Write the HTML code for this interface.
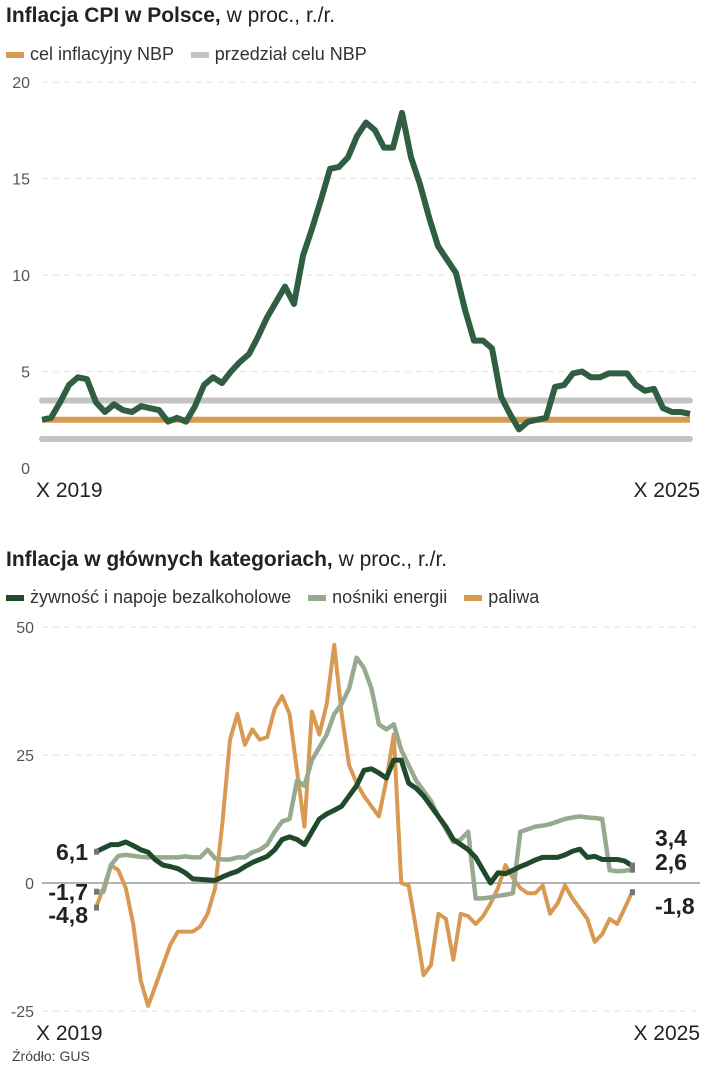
<!DOCTYPE html>
<html><head><meta charset="utf-8">
<style>
body{margin:0;background:#fff;font-family:"Liberation Sans Narrow","Liberation Sans",sans-serif;color:#222;}
#wrap{position:relative;width:703px;height:1080px;overflow:hidden;}
.t{position:absolute;white-space:nowrap;}
</style></head>
<body>
<div id="wrap">
<div class="t" style="left:6px;top:4px;font-size:21px"><b>Inflacja CPI w Polsce,</b> w proc., r./r.</div>
<div class="t" style="left:6px;top:44px;font-size:18px;color:#333">
<span style="display:inline-block;width:18px;height:6px;background:#d89a52;vertical-align:middle;margin-right:6px"></span>cel inflacyjny NBP
<span style="display:inline-block;width:18px;height:6px;background:#c3c3c3;vertical-align:middle;margin:0 6px 0 12px"></span>przedział celu NBP</div>
<div class="t" style="left:6px;top:548px;font-size:21px"><b>Inflacja w głównych kategoriach,</b> w proc., r./r.</div>
<div class="t" style="left:6px;top:587px;font-size:18px;color:#333">
<span style="display:inline-block;width:18px;height:6px;background:#1f4a2c;vertical-align:middle;margin-right:6px"></span>żywność i napoje bezalkoholowe
<span style="display:inline-block;width:18px;height:6px;background:#97aa8f;vertical-align:middle;margin:0 6px 0 12px"></span>nośniki energii
<span style="display:inline-block;width:18px;height:6px;background:#d89a52;vertical-align:middle;margin:0 6px 0 12px"></span>paliwa</div>
<svg id="svg" width="703" height="1080" style="position:absolute;left:0;top:0"></svg>
<div class="t" style="left:12px;top:1048px;font-size:14px;color:#444">Źródło: GUS</div>
</div>
<script>
const months1 = 73;
const cpi = [2.5,2.6,3.4,4.3,4.7,4.6,3.4,2.9,3.3,3.0,2.9,3.2,3.1,3.0,2.4,2.6,2.4,3.2,4.3,4.7,4.4,5.0,5.5,5.9,6.8,7.8,8.6,9.4,8.5,11.0,12.4,13.9,15.5,15.6,16.1,17.2,17.9,17.5,16.6,16.6,18.4,16.1,14.7,13.0,11.5,10.8,10.1,8.2,6.6,6.6,6.2,3.7,2.8,2.0,2.4,2.5,2.6,4.2,4.3,4.9,5.0,4.7,4.7,4.9,4.9,4.9,4.3,4.0,4.1,3.1,2.9,2.9,2.8];
const targetVals = [2.5];
const bandVals = [1.5,3.5];
const ticks1 = [0,5,10,15,20];
const food = [6.1,6.8,7.5,7.5,8,7.3,6.5,6,4.5,3.5,3.2,2.8,2,0.8,0.7,0.6,0.5,1.2,1.8,2.3,3.2,4,4.6,5.2,6.5,8.5,9,8.5,7.5,10,12.5,13.5,14.2,15,17,19,22,22.3,21.5,20.5,24,24,19.5,18.5,17,15,13,11,8.5,7.5,6.5,5,2.5,0,2,1.8,2.5,3.2,3.8,4.5,5,5,5,5.5,6.2,6.6,5,5.2,4.6,4.6,4.6,4.3,3.4];
const energy = [-1.7,-1.7,3.5,5.3,5.5,5.3,5.1,5,5,5,5,5,5.2,5,5,6.5,4.8,4.6,4.6,5,5,6,6.5,7.5,10,12,12.5,20,19,24,26.5,29,33,35,38,44,42,38,31,30,31,26,23,20,18,16,13,10.5,8,8.5,10,-3,-3,-2.8,-2.5,-2.3,-2,10,10.5,11,11.2,11.5,12,12.5,12.8,13,12.8,12.7,12.5,2.5,2.3,2.4,2.6];
const fuel = [-4.8,-1,3.5,2.5,-1,-8,-19,-24,-20,-16,-12,-9.5,-9.5,-9.5,-8.5,-6,-1,12,28,33,27,30,28,28.5,34,36.5,33,22,11,33.5,29,35,46.5,33,23,19.5,17,15,13,20,29,0,-0.5,-9,-18,-16,-6,-7,-15,-6,-6.5,-8,-6.5,-4,-1,3.5,1,-1,-2,-2,-0.5,-6,-4,-0.5,-3,-5,-7,-11.5,-10,-7,-8,-5,-1.8];
const ticks2 = [-25,0,25,50];
const xLabels = ["X 2019","X 2025"];

const svg = document.getElementById('svg');
const NS='http://www.w3.org/2000/svg';
function mk(tag, attrs, name){const e=document.createElementNS(NS,tag);for(const k in attrs)e.setAttribute(k,attrs[k]);


svg.appendChild(e);return e;}
// chart 1 axes
const x1 = i => 42 + i*(690-42)/(months1-1);
const y1 = v => 468 - v*19.3;
ticks1.forEach(t=>{
  if(t>0) mk('line',{x1:42,x2:700,y1:y1(t),y2:y1(t),stroke:'#e2e2e2','stroke-dasharray':'6,5','stroke-width':1},'grid-line-'+t);
  const tx=mk('text',{x:30,y:y1(t)+6,'text-anchor':'end','font-size':16,fill:'#555','font-family':'Liberation Sans Narrow, Liberation Sans, sans-serif'},'y-tick-label-'+t);
  tx.textContent=t;
});
bandVals.forEach((b,k)=>mk('line',{x1:x1(0),x2:x1(months1-1),y1:y1(b),y2:y1(b),stroke:'#c3c3c3','stroke-width':6,'stroke-linecap':'round'},'target-band-line-'+k));
targetVals.forEach(b=>mk('line',{x1:x1(0),x2:x1(months1-1),y1:y1(b),y2:y1(b),stroke:'#d89a52','stroke-width':6},'target-line'));
mk('polyline',{points:cpi.map((v,i)=>x1(i)+','+y1(v)).join(' '),fill:'none',stroke:'#2f5e42','stroke-width':6,'stroke-linejoin':'round'},'cpi-line');
function xl(txt,x,y,anchor,name){const t=mk('text',{x:x,y:y,'text-anchor':anchor,'font-size':21,fill:'#222','font-family':'Liberation Sans Narrow, Liberation Sans, sans-serif'},name);t.textContent=txt;}
xl(xLabels[0],36,497,'start','x-label-start-1');xl(xLabels[1],700,497,'end','x-label-end-1');
// chart 2
const x2 = i => 96 + i*(632-96)/(months1-1);
const y2 = v => 883 - v*5.12;
ticks2.forEach(t=>{
  if(t!==0) mk('line',{x1:42,x2:700,y1:y2(t),y2:y2(t),stroke:'#e2e2e2','stroke-dasharray':'6,5','stroke-width':1},'grid2-line-'+t);
  const tx=mk('text',{x:34,y:y2(t)+6,'text-anchor':'end','font-size':16,fill:'#555','font-family':'Liberation Sans Narrow, Liberation Sans, sans-serif'},'y2-tick-label-'+t);
  tx.textContent=t;
});
mk('line',{x1:42,x2:700,y1:y2(0),y2:y2(0),stroke:'#888','stroke-width':1.2},'zero-line');
mk('polyline',{points:fuel.map((v,i)=>x2(i)+','+y2(v)).join(' '),fill:'none',stroke:'#d89a52','stroke-width':4,'stroke-linejoin':'round'},'fuel-line');
mk('polyline',{points:energy.map((v,i)=>x2(i)+','+y2(v)).join(' '),fill:'none',stroke:'#97aa8f','stroke-width':4.5,'stroke-linejoin':'round'},'energy-line');
mk('polyline',{points:food.map((v,i)=>x2(i)+','+y2(v)).join(' '),fill:'none',stroke:'#1f4a2c','stroke-width':5,'stroke-linejoin':'round'},'food-line');
// end labels
const series=[food,energy,fuel];
const startOff=[[-32,6],[-38,16],[-38,39]];
const endOff=[[656,-44],[656,-20],[656,24]];
series.forEach((s,k)=>{
  const v0=s[0],v1=s[s.length-1];
  mk('rect',{x:x2(0)-2,y:y2(v0)-3,width:5,height:6,fill:'#777'},'start-marker-'+k);
  mk('rect',{x:x2(months1-1)-2,y:y2(v1)-3,width:5,height:6,fill:'#777'},'end-marker-'+k);
  const a=mk('text',{x:88,y:(k===0?y2(v0)+8:[892,915][k-1]+8),'text-anchor':'end','font-size':23,'font-weight':'bold',fill:'#222','font-family':'Liberation Sans Narrow, Liberation Sans, sans-serif'},'start-value-label-'+k);
  a.textContent=String(v0).replace('.',',');
  const b=mk('text',{x:655,y:[838,862,906][k]+8,'font-size':23,'font-weight':'bold',fill:'#222','font-family':'Liberation Sans Narrow, Liberation Sans, sans-serif'},'end-value-label-'+k);
  b.textContent=String(v1).replace('.',',');
});
xl(xLabels[0],36,1040,'start','x-label-start-2');xl(xLabels[1],700,1040,'end','x-label-end-2');
</script>
</body></html>
